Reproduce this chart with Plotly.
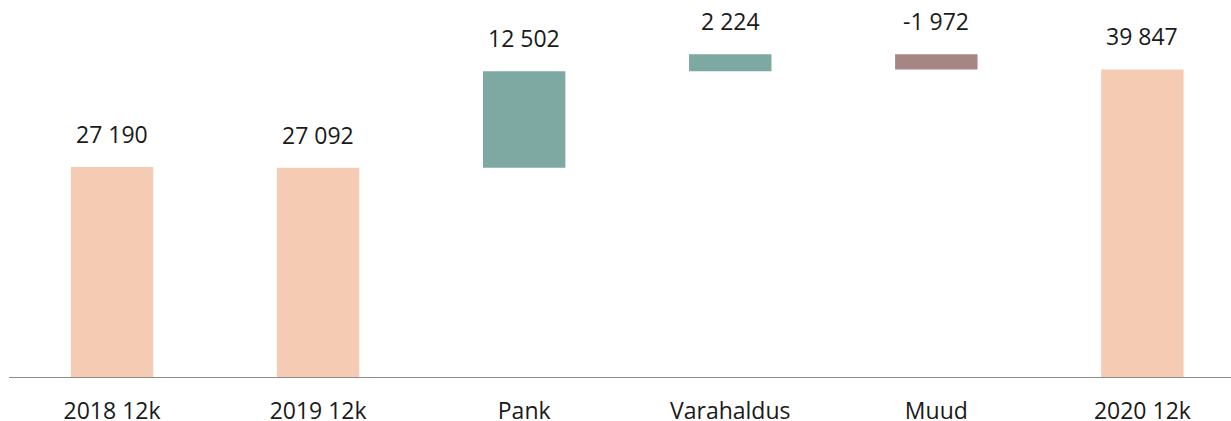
import plotly.graph_objects as go

categories = ["2018 12k", "2019 12k", "Pank", "Varahaldus", "Muud", "2020 12k"]
values = [27190, 27092, 12502, 2224, -1972, 39847]
measures = ["absolute", "absolute", "relative", "relative", "relative", "absolute"]
labels = ["27 190", "27 092", "12 502", "2 224", "-1 972", "39 847"]

PEACH = "#F5CBB4"
TEAL = "#7EA8A2"
MAUVE = "#A58683"
FONT = "Open Sans"

fig = go.Figure(go.Waterfall(
    x=categories,
    y=values,
    measure=measures,
    width=0.4,
    connector=dict(visible=False),
    increasing=dict(marker=dict(color=TEAL)),
    decreasing=dict(marker=dict(color=MAUVE)),
    totals=dict(marker=dict(color=PEACH)),
    hoverinfo="skip",
))

# compute bar tops for labels
tops = []
running = 0
for v, m in zip(values, measures):
    if m == "absolute":
        start, running = 0, v
    else:
        start, running = running, running + v
    tops.append(max(start, running))

for c, t, lab in zip(categories, tops, labels):
    fig.add_annotation(x=c, y=t, text=lab, showarrow=False, yanchor="middle",
                       yshift=33, font=dict(family=FONT, size=23, color="#1a1a1a"))

fig.update_layout(
    width=1231, height=421,
    margin=dict(l=9, r=0, t=10, b=44, autoexpand=False),
    paper_bgcolor="white", plot_bgcolor="white",
    showlegend=False,
    font=dict(family=FONT, size=23, color="#1a1a1a"),
)
fig.update_xaxes(range=[-0.5, 5.43], showline=True, linecolor="#8c8c8c", linewidth=1,
                 showgrid=False, ticks="", ticklabelstandoff=13, automargin=False,
                 tickfont=dict(family=FONT, size=23, color="#1a1a1a"))
fig.update_yaxes(range=[0, 47540], visible=False, showgrid=False, zeroline=False,
                 automargin=False)

fig.write_html("out.html",
               config={"displayModeBar": False, "staticPlot": True},
               post_script="document.body.style.margin='0';document.body.style.overflow='hidden';")
